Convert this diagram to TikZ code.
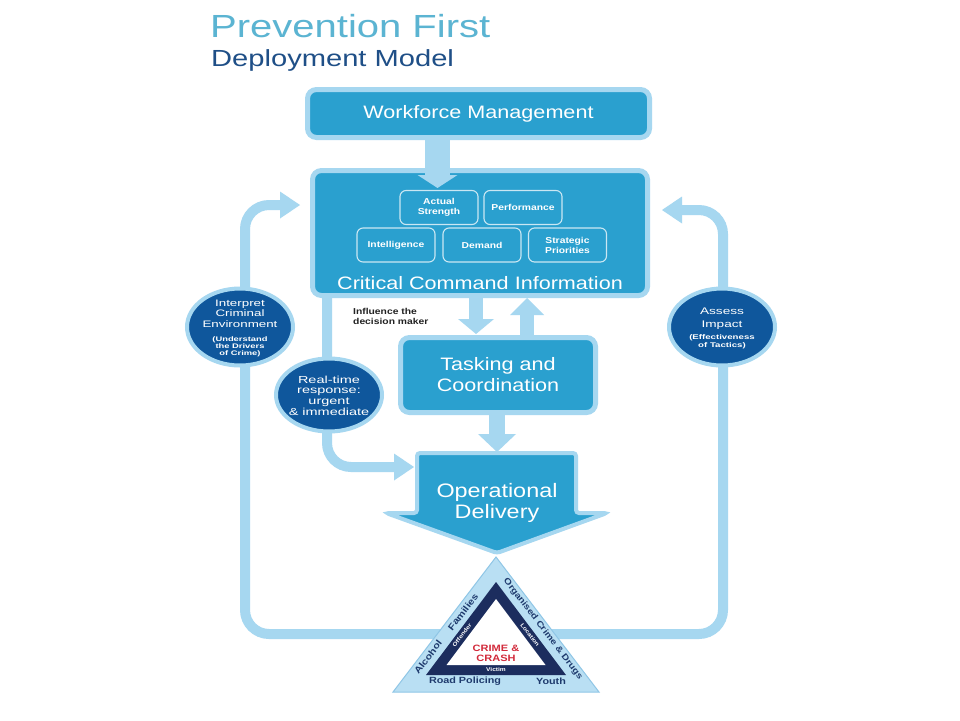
\documentclass[tikz,border=0pt]{standalone}
\usepackage{fontspec}
\setmainfont{Liberation Sans}[FakeStretch=1.2]
\newfontfamily\titlefont{Liberation Sans}[FakeStretch=1.25]
\newfontfamily\widefont{Liberation Sans}[FakeStretch=1.42]
\usetikzlibrary{arrows.meta,calc,shapes.geometric}
\definecolor{boxblue}{HTML}{2AA0CF}
\definecolor{lightblue}{HTML}{A6D7F0}
\definecolor{circblue}{HTML}{0F579C}
\definecolor{navy}{HTML}{1C2D5E}
\definecolor{triblue}{HTML}{B9DFF3}
\definecolor{triedge}{HTML}{8FC6E6}
\definecolor{titleteal}{HTML}{5BB4D2}
\definecolor{titlenavy}{HTML}{1F4F87}
\definecolor{crimered}{HTML}{D22A3B}
\definecolor{tritext}{HTML}{1E3A6D}
\definecolor{infotext}{HTML}{222222}
\newcommand\fs[2]{\fontsize{#1}{#2}\selectfont\lineskiplimit=-20pt}
\begin{document}
\begin{tikzpicture}[x=1pt,y=-1pt,
 mainbox/.style={draw=lightblue, line width=5pt, fill=boxblue, rounded corners=9pt, text=white, align=center, inner sep=0pt},
 infobox/.style={draw=white!75!boxblue, line width=1.1pt, rounded corners=6pt, minimum width=78pt, minimum height=34pt, text=white, font=\bfseries\fs{8.6}{10}, align=center, inner sep=0pt},
 circ/.style={ellipse, draw=lightblue, line width=4pt, fill=circblue, minimum width=106pt, minimum height=77pt, inner sep=0pt},
 circtext/.style={text=white, align=center, inner sep=0pt, anchor=north},
 flowline/.style={draw=lightblue, line width=10pt, rounded corners=24pt, -{Triangle[length=20pt, width=27pt, line width=0pt]}},
 blockarrow/.style args={#1/#2/#3}{draw=lightblue, line width=#1, -{Triangle[length=#3, width=#2, line width=0pt]}},
 tritxt/.style={text=tritext, font=\bfseries\fs{9}{10}, inner sep=0pt},
 bandtxt/.style={text=white, font=\bfseries\fs{5.5}{6}, inner sep=0pt},
]
\fill[white] (0,0) rectangle (960,720);
\useasboundingbox (0,0) rectangle (960,720);

% title
\node[anchor=base west, inner sep=0pt, text=titleteal, font=\titlefont\fs{32}{34}] (title) at (210,37.5) {Prevention First};
\node[anchor=base west, inner sep=0pt, text=titlenavy, font=\titlefont\fs{23.3}{25}] (subtitle) at (211,66) {Deployment Model};

% main boxes
\node[mainbox, minimum width=342pt, minimum height=48pt, font=\fs{18}{21}] (wm) at (478.5,113.5) {Workforce Management};
\node[mainbox, minimum width=335pt, minimum height=125pt] (cci) at (480,233) {};
\node[text=white, font=\fs{18}{21}, inner sep=0pt] (ccilabel) at (480,283) {Critical Command Information};

\node[infobox] (actual) at (439,207.5) {Actual\\Strength};
\node[infobox] (perf) at (523,207.5) {Performance};
\node[infobox] (intel) at (396,245) {Intelligence};
\node[infobox] (demand) at (482,245) {Demand};
\node[infobox] (strat) at (567.5,245) {Strategic\\Priorities};

\node[mainbox, minimum width=195pt, minimum height=75pt, font=\fs{18}{21}] (task) at (498,375) {Tasking and\\Coordination};

% operational delivery
\draw[line width=4pt, draw=lightblue, fill=boxblue, rounded corners=3pt] (417,453) -- (576,453) -- (576,513) -- (607,513) -- (497,553) -- (386,513) -- (417,513) -- cycle;
\node[text=white, align=center, font=\fs{19.5}{21}, inner sep=0pt] (od) at (497,503) {Operational\\Delivery};

% block arrows
\coordinate (cciIn) at (437.5,188);
\draw[blockarrow=25pt/40pt/13pt] (wm.south -| cciIn) -- (cciIn);
\coordinate (taskIn) at (476,334);
\draw[blockarrow=14pt/36pt/15pt] (cci.south -| taskIn) -- (taskIn);
\coordinate (cciBack) at (527,298);
\draw[blockarrow=14pt/34pt/17pt] (task.north -| cciBack) -- (cciBack);
\coordinate (odIn) at (497,452);
\draw[blockarrow=16pt/38pt/18pt] (task.south -| odIn) -- (odIn);

% flow lines
\coordinate (rtc) at (327,467);
\coordinate (odSide) at (414,467);
\draw[flowline] (cci.south -| rtc) -- (rtc) -- (odSide);
\coordinate (trL) at (455,634);
\coordinate (lc1) at (245,634);
\coordinate (lc2) at (245,205);
\coordinate (cciLin) at ($(cci.west |- lc2)+(-10,0)$);
\draw[flowline] (trL) -- (lc1) -- (lc2) -- (cciLin);
\coordinate (trR) at (540,634);
\coordinate (rc1) at (723,634);
\coordinate (rc2) at (723,210);
\coordinate (cciRin) at ($(cci.east |- rc2)+(12,0)$);
\draw[flowline] (trR) -- (rc1) -- (rc2) -- (cciRin);

% circles
\node[circ] (interp) at (240,327) {};
\node[circtext, font=\widefont\fs{9.4}{10.2}] (interpA) at (240,300) {Interpret\\Criminal\\Environment};
\node[circtext, font=\widefont\bfseries\fs{6.6}{7}] (interpB) at (240,336.5) {(Understand\\the Drivers\\of Crime)};

\node[circ, minimum height=73pt] (rt) at (329,395) {};
\node[circtext, font=\widefont\fs{10.2}{10.8}] (rtA) at (329,375.5) {Real-time\\response:\\urgent\\\& immediate};

\node[circ] (assess) at (722,327) {};
\node[circtext, font=\widefont\fs{9.6}{12.5}] (assessA) at (722,308) {Assess\\Impact};
\node[circtext, font=\widefont\bfseries\fs{6.8}{7.4}] (assessB) at (722,334.5) {(Effectiveness\\of Tactics)};

\node[anchor=north west, inner sep=0pt, align=left, text=infotext, font=\bfseries\fs{8.6}{10.5}] (influence) at (353,308) {Influence the\\decision maker};

% triangle
\coordinate (tA) at (496,557);
\coordinate (tB) at (393,692);
\coordinate (tC) at (599,692);
\filldraw[fill=triblue, draw=triedge, line width=1pt] (tA) -- (tB) -- (tC) -- cycle;
\coordinate (nA) at (496,582);
\coordinate (nB) at (426,675);
\coordinate (nC) at (566,675);
\fill[navy] (nA) -- (nB) -- (nC) -- cycle;
\coordinate (wA) at (496,599);
\coordinate (wB) at (446.5,665);
\coordinate (wC) at (545.5,665);
\fill[white] (wA) -- (wB) -- (wC) -- cycle;

\node[tritxt, rotate=52.7] (alcohol) at (428,657) {Alcohol};
\node[tritxt, rotate=52.7] (families) at (463,612) {Families};
\node[tritxt, font=\bfseries\fs{8.5}{10}, rotate=-52.7] (organised) at (543,629) {Organised Crime \& Drugs};
\node[tritxt] (road) at (465,681) {Road Policing};
\node[tritxt] (youth) at (551,681) {Youth};

\node[bandtxt, rotate=52.7] (offender) at (462,635) {Offender};
\node[bandtxt, rotate=-52.7] (location) at (530,635) {Location};
\node[bandtxt] (victim) at (496,670) {Victim};

\node[text=crimered, align=center, font=\bfseries\fs{9.2}{10}, inner sep=0pt] (crime) at (496,653) {CRIME \&\\CRASH};
\end{tikzpicture}
\end{document}
